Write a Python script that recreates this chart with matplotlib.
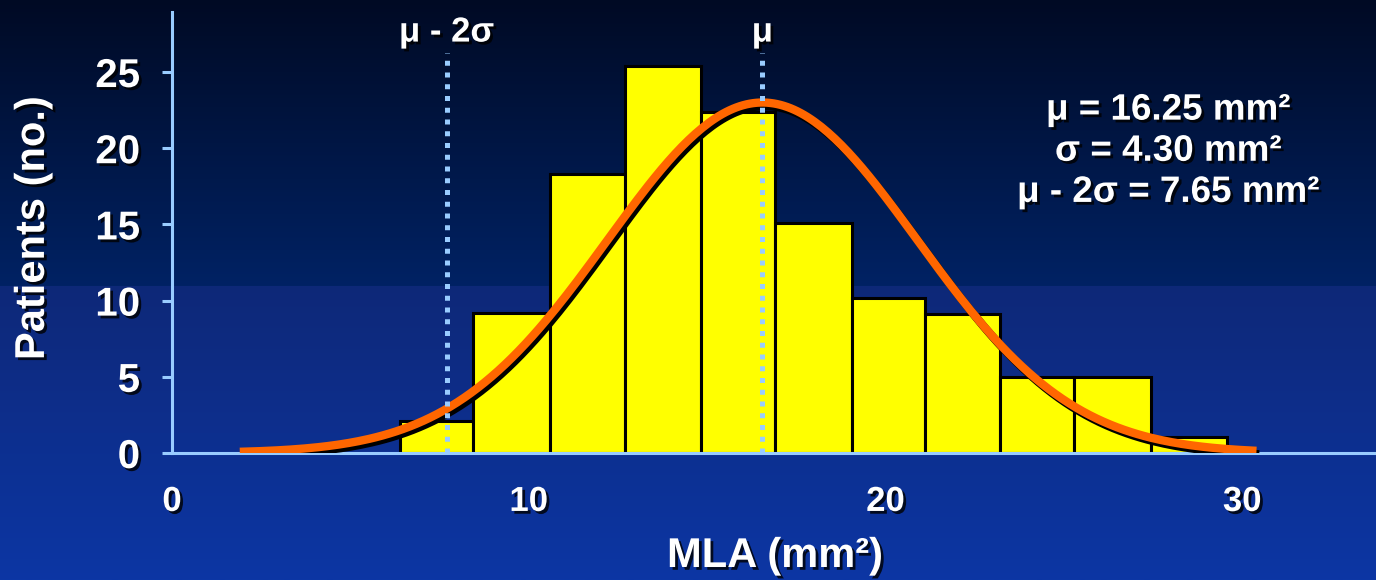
"""MLA histogram with fitted normal curve"""

import numpy as np
import matplotlib
matplotlib.use('Agg')
import matplotlib.pyplot as plt
import matplotlib.patheffects as pe

plt.rcParams['font.family'] = ['Liberation Sans', 'DejaVu Sans']
plt.rcParams['font.weight'] = 'bold'

# Data
bin_edges = [6.39, 8.44, 10.60, 12.70, 14.83, 16.90, 19.06, 21.11, 23.21, 25.29, 27.45, 29.58]
counts = [2.1, 9.2, 18.3, 25.4, 22.4, 15.1, 10.15, 9.1, 5.0, 5.0, 1.03]
x_ticks = [0, 10, 20, 30]
y_ticks = [0, 5, 10, 15, 20, 25]

# fitted curve (position)
curve_mu = 16.55
curve_sigma = 4.35
curve_peak = 23.0
curve_range = (1.9, 30.4)

# marker lines: mu - 2 sigma and mu
line_x = [7.7, 16.55]
line_labels = ['\u03bc - 2\u03c3', '\u03bc']

stats_lines = ['\u03bc = 16.25 mm\u00b2', '\u03c3 = 4.30 mm\u00b2', '\u03bc - 2\u03c3 = 7.65 mm\u00b2']

# colours
light_blue = '#99ccff'
shadow = [pe.SimplePatchShadow(offset=(2, -2), shadow_rgbFace='black', alpha=0.8), pe.Normal()]

fig = plt.figure(figsize=(13.76, 5.8), dpi=100)

# background gradient
bg = fig.add_axes([0, 0, 1, 1], zorder=-10)
n = 580
grad = np.zeros((n, 1, 3))
split = 286
top = np.linspace([0, 10, 36], [0, 34, 100], split)
bot = np.linspace([14, 40, 120], [12, 54, 164], n - split)
grad[:split, 0, :] = top / 255
grad[split:, 0, :] = bot / 255
bg.imshow(grad, aspect='auto', extent=[0, 1, 0, 1], interpolation='bilinear')
bg.axis('off')

ax = fig.add_axes([172 / 1376, 127 / 580, 1204 / 1376, 441 / 580])
ax.set_facecolor('none')
ax.set_xlim(0, 33.75)
ax.set_ylim(0, 28.94)

# histogram
widths = np.diff(bin_edges)
ax.bar(bin_edges[:-1], counts, width=widths, align='edge', color='#ffff00',
       edgecolor='black', linewidth=2.2, zorder=2)

# normal curve
xs = np.linspace(curve_range[0], curve_range[1], 300)
ys = curve_peak * np.exp(-(xs - curve_mu) ** 2 / (2 * curve_sigma ** 2))
ax.plot(xs, ys, color='#ff6600', linewidth=6, solid_capstyle='butt', zorder=3,
        path_effects=[pe.SimpleLineShadow(offset=(2, -2.5), shadow_color='black', alpha=1.0),
                      pe.Normal()])

# dotted marker lines
for xv, lab in zip(line_x, line_labels):
    ax.plot([xv, xv], [0, 26.25], color=light_blue, linewidth=3.6,
            linestyle=(0, (1, 1.35)), dash_capstyle='butt', zorder=4)
    ax.text(xv, 27.0, lab, color='white', fontsize=25, ha='center', va='baseline',
            path_effects=shadow, zorder=5)

# stats text
for i, s in enumerate(stats_lines):
    ax.text(27.92, 22.5 - i * 2.7, s, color='white', fontsize=26.5, ha='center', va='center',
            path_effects=shadow, zorder=5)

# axes styling
for side in ['top', 'right']:
    ax.spines[side].set_visible(False)
for side in ['left', 'bottom']:
    ax.spines[side].set_color(light_blue)
    ax.spines[side].set_linewidth(2.2)

ax.set_xticks(x_ticks)
ax.set_yticks(y_ticks)
ax.tick_params(axis='x', length=0, pad=23, labelsize=25, labelcolor='white')
ax.tick_params(axis='y', length=7, width=2.2, color=light_blue, pad=16, labelsize=29,
               labelcolor='white')
for lab in ax.get_xticklabels() + ax.get_yticklabels():
    lab.set_fontweight('bold')
    lab.set_path_effects(shadow)

ax.set_xlabel('MLA (mm\u00b2)', fontsize=30, color='white', fontweight='bold', va='center',
              path_effects=shadow)
ax.xaxis.set_label_coords(0.5008, -0.2336)
ax.set_ylabel('Patients (no.)', fontsize=30, color='white', fontweight='bold', va='center',
              path_effects=shadow)
ax.yaxis.set_label_coords(-0.1155, 0.51)

fig.savefig('out.png', dpi=100)
